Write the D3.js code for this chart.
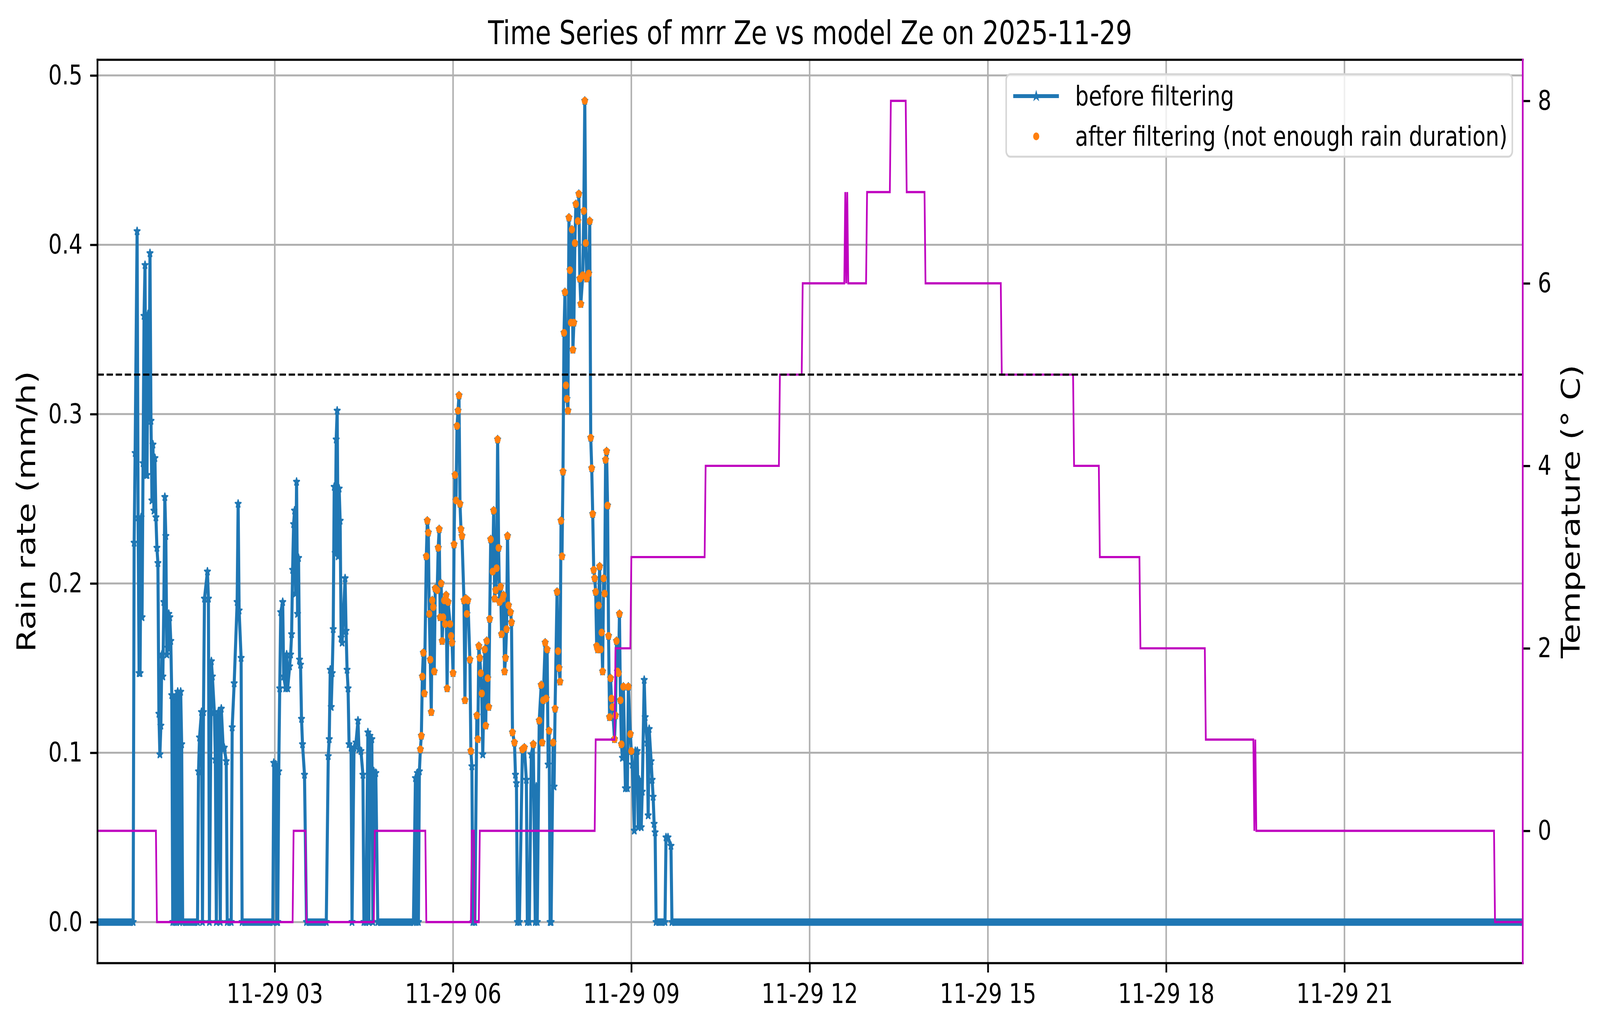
<!DOCTYPE html>
<html>
<head>
<meta charset="utf-8">
<script src="https://cdn.jsdelivr.net/npm/d3@7"></script>
<style>
  html, body { margin: 0; padding: 0; background: #fff; overflow: hidden; }
  svg { display: block; width: 100vw; height: 100vh; }
  text { font-family: "DejaVu Sans", sans-serif; fill: #000; }
</style>
</head>
<body>
<script>

// data, times are minutes after 2025-11-29 00:00

// rain rate readings (mm/h) where it was raining, [minute, value]
var rainReadings = [
  [38,.224],[39,.277],[41,.408],[42,.239],[43,.147],[44,.147],[45,.239],[46,.180],[47,.271],[48,.358],
  [49,.388],[50,.264],[51,.264],[52,.359],[53,.297],[54,.395],[55,.296],[56,.249],[57,.282],[58,.243],
  [59,.274],[60,.239],[61,.221],[62,.212],[63,.123],[64,.099],[65,.116],[66,.158],[67,.145],[68,.189],
  [69,.251],[70,.228],[71,.158],[72,.162],[73,.182],[74,.180],[75,.166],[76,.134],[77,0],[78,.131],
  [79,0],[80,.133],[81,0],[82,.136],[83,.105],[84,0],[85,.136],[86,.105],
  [103,.089],[104,.109],[106,.124],[107,0],[108,.124],[109,.191],[112,.207],[113,.191],[114,0],[116,.154],
  [117,.145],[119,.124],[120,.096],[121,0],[122,.122],[123,.124],[125,0],[126,.126],[128,.102],[129,.103],
  [131,.095],
  [137,.115],[139,.141],[142,.189],[143,.247],[144,.184],[146,.156],
  [179,.094],[181,.093],[182,0],[183,0],[184,.089],[185,.138],[186,.183],[188,.189],[189,.145],[191,.138],
  [192,.158],[193,.138],[195,.151],[196,.158],[197,.170],[198,.208],[199,.235],[200,.243],[201,.194],[202,.260],
  [203,.182],[204,.215],[205,.155],[206,.152],[207,.120],[208,.105],[210,.087],
  [234,.098],[235,.108],[236,.149],[237,.127],[238,.147],[239,.173],[240,.257],[241,.218],[242,.285],[243,.302],
  [244,.216],[245,.256],[246,.237],[247,.168],[248,.165],[251,.203],[252,.172],[253,.149],[254,.138],[255,.105],
  [257,.103],[258,0],[260,.103],[262,.106],[264,.119],[265,.102],[267,.101],[269,.087],[270,0],[272,0],
  [274,.112],[275,0],[276,.110],[278,.108],[279,0],[280,.089],[282,.088],
  [322,.085],[323,0],[324,.088],[325,0],[326,.089],[327,.102],[328,.110],[329,.145],[330,.159],[331,.135],
  [333,.216],[334,.237],[335,.230],[336,.182],[337,.155],[338,.124],[339,.190],[340,.186],[341,.148],[342,.197],
  [344,.196],[345,.221],[346,.232],[347,.180],[348,.200],[349,.166],[350,.180],[351,.190],[352,.176],[353,.193],
  [354,.138],[355,.189],[357,.176],[358,.169],[359,.165],[360,.147],[361,.223],[362,.264],[363,.249],[364,.293],
  [365,.302],[366,.311],[367,.247],[368,.232],[369,.228],[371,.190],[372,.131],[373,.191],[374,.182],[375,.190],
  [377,.155],[378,.101],[379,.092],[380,0],[382,0],[384,.122],[385,.108],[386,.163],[387,.156],[388,.147],
  [389,.135],[390,.099],[392,.161],[393,.116],[394,.166],[395,.144],[396,.127],[397,.179],[398,.226],[400,.207],
  [401,.243],[402,.191],[403,.196],[404,.209],[405,.285],[406,.221],[407,.189],[408,.198],[409,.170],[410,.191],
  [411,.193],[412,.148],[413,.156],[414,.173],[415,.228],[416,.187],[418,.183],[419,.177],[420,.112],[422,.106],
  [423,.087],[424,.082],[425,0],[427,0],[430,.102],[432,.103],[434,.084],[435,0],[437,0],[439,.099],
  [441,.105],[443,0],[444,.080],[445,0],[447,.119],[449,.140],[450,.106],[451,.131],[453,.165],[454,.132],
  [455,.161],[456,.093],[457,.113],[458,0],[459,0],[461,.106],[462,.080],[463,.126],[465,.195],[466,.160],
  [467,.150],[468,.142],[469,.237],[470,.216],[471,.266],[472,.348],[473,.372],[474,.317],[475,.309],[476,.302],
  [477,.416],[478,.385],[479,.354],[480,.409],[481,.338],[482,.354],[483,.401],[484,.424],[486,.414],[487,.430],
  [488,.380],[489,.365],[491,.382],[492,.420],[493,.485],[494,.401],[495,.380],[497,.383],[498,.414],[499,.286],
  [500,.268],[501,.241],[502,.208],[503,.203],[504,.195],[505,.163],[506,.161],[507,.187],[508,.210],[509,.161],
  [510,.171],[511,.148],[512,.203],[513,.194],[514,.273],[515,.278],[516,.246],[517,.169],[518,.121],[519,.144],
  [520,.132],[521,.127],[523,.108],[524,.122],[525,.166],[526,.148],[527,.147],[528,.182],[529,.131],[530,.105],
  [531,.097],[532,.139],[534,.079],[536,.079],[537,.139],[539,.111],[540,.101],[541,.093],[543,.054],[544,.101],
  [546,.101],[547,.056],[548,.084],[550,.056],[551,.077],[553,.143],[554,.121],[556,.106],[557,.063],[558,.114],
  [560,.095],[561,.084],[562,.074],[563,.058],[564,.053],
  [575,.050],[577,.050],[580,.045]
];

// stretches where the radar reported 0 every minute, [from, to]
var dryPeriods = [[1,37],[87,102],[132,136],[147,178],[212,232],[284,320],[565,574],[581,1440]];

// what was kept after filtering
var keepFrom = 325, keepTo = 540, minRate = 0.1;

// model temperature (deg C), [minute, value]
var tempPoints = [
  [1,0],[60,0],[61,-1],[198,-1],[199,0],[211,0],[212,-1],[280,-1],[281,0],[332,0],[333,-1],
  [378,-1],[379,0],[381,0],[382,-1],[386,-1],[387,0],[503,0],[504,1],[523,1],[524,2],[539,2],[540,3],
  [614,3],[615,4],[689,4],[690,5],[712,5],[713,6],[755,6],[756,7],[757,6],[758,7],[759,6],
  [777,6],[778,7],[801,7],[802,8],[817,8],[818,7],[836,7],[837,6],[913,6],[914,5],[986,5],[987,4],
  [1012,4],[1013,3],[1053,3],[1054,2],[1119,2],[1120,1],[1168,1],[1169,0],[1170,1],[1171,0],
  [1411,0],[1412,-1],[1440,-1]
];
var tempLine = 5;

var rainTicks = [0, 0.1, 0.2, 0.3, 0.4, 0.5];
var tempTicks = [0, 2, 4, 6, 8];
var hourTicks = [180, 360, 540, 720, 900, 1080, 1260];
var dayLabel = "11-29";

var titleText = "Time Series of mrr Ze vs model Ze on 2025-11-29";
var legendLabels = ["before filtering", "after filtering (not enough rain duration)"];


var width = 5219,
    height = 2631;
// plot box (note: "top" is taken by window.top)
var pL = 318, pR = 4967, pT = 153, pB = 2465;

var blue = "#1f77b4", orange = "#ff7f0e", magenta = "#bf00bf";

// drawn in a fixed 5219x2631 frame, stretched to whatever the window is
var svg = d3.select("body").append("svg")
    .attr("viewBox", "0 0 " + width + " " + height)
    .attr("preserveAspectRatio", "none");

svg.append("defs").append("clipPath").attr("id", "plot")
  .append("rect")
    .attr("x", pL).attr("y", pT)
    .attr("width", pR - pL).attr("height", pB - pT);

// matplotlib style 5% margins on the y data
function padded(ext) {
  var d = (ext[1] - ext[0]) * 0.05;
  return [ext[0] - d, ext[1] + d];
}

var x = d3.scaleLinear().domain([1, 1440]).range([pL, pR]);
var yRain = d3.scaleLinear()
    .domain(padded([0, d3.max(rainReadings, d => d[1])]))
    .range([pB, pT]);
var yTemp = d3.scaleLinear()
    .domain(padded(d3.extent(tempPoints, d => d[1])))
    .range([pB, pT]);

// grid
var grid = svg.append("g").attr("stroke", "#b0b0b0").attr("stroke-width", 5);
grid.selectAll(".gx").data(hourTicks).enter().append("line")
    .attr("x1", d => x(d)).attr("x2", d => x(d))
    .attr("y1", pT).attr("y2", pB);
grid.selectAll(".gy").data(rainTicks).enter().append("line")
    .attr("x1", pL).attr("x2", pR)
    .attr("y1", d => yRain(d)).attr("y2", d => yRain(d));

// rain series: dry stretch ends plus readings
var series = dryPeriods.flatMap(p => [[p[0], 0], [p[1], 0]])
    .concat(rainReadings)
    .sort((a, b) => a[0] - b[0]);

var plot = svg.append("g").attr("clip-path", "url(#plot)");

var rainLine = d3.line().x(d => x(d[0])).y(d => yRain(d[1]));

plot.append("path")
    .datum(series)
    .attr("d", rainLine)
    .attr("fill", "none")
    .attr("stroke", blue)
    .attr("stroke-width", 10)
    .attr("stroke-linejoin", "round");

// minute by minute stars along the dry stretches merge into a thick band
plot.selectAll(".dry").data(dryPeriods).enter().append("line")
    .attr("x1", d => x(d[0])).attr("x2", d => x(d[1]))
    .attr("y1", yRain(0)).attr("y2", yRain(0))
    .attr("stroke", blue)
    .attr("stroke-width", 19);

var star = d3.symbol().type(d3.symbolStar).size(110);
plot.selectAll(".star").data(series).enter().append("path")
    .attr("d", star)
    .attr("transform", d => "translate(" + x(d[0]) + "," + yRain(d[1]) + ")")
    .attr("fill", blue)
    .attr("stroke", blue)
    .attr("stroke-width", 4)
    .attr("stroke-linejoin", "round");

var kept = rainReadings.filter(d => d[0] >= keepFrom && d[0] <= keepTo && d[1] >= minRate);
plot.selectAll(".kept").data(kept).enter().append("circle")
    .attr("cx", d => x(d[0]))
    .attr("cy", d => yRain(d[1]))
    .attr("r", 10)
    .attr("fill", orange);

// temperature on the twin axis
plot.append("path")
    .datum(tempPoints)
    .attr("d", d3.line().x(d => x(d[0])).y(d => yTemp(d[1])))
    .attr("fill", "none")
    .attr("stroke", magenta)
    .attr("stroke-width", 5.6);

plot.append("line")
    .attr("x1", pL).attr("x2", pR)
    .attr("y1", yTemp(tempLine)).attr("y2", yTemp(tempLine))
    .attr("stroke", "#000")
    .attr("stroke-width", 5.6)
    .attr("stroke-dasharray", "20.7,9");

// axes
function style(g) {
  g.select(".domain").remove();
  g.selectAll(".tick line").attr("stroke", "#000").attr("stroke-width", 5.6);
  g.selectAll(".tick text").attr("font-size", 70).attr("font-family", "DejaVu Sans");
}

svg.append("g")
    .attr("transform", "translate(0," + pB + ")")
    .call(d3.axisBottom(x).tickValues(hourTicks).tickSize(24).tickPadding(28)
      .tickFormat(m => dayLabel + " " + String(m / 60).padStart(2, "0")))
    .call(style);

svg.append("g")
    .attr("transform", "translate(" + pL + ",0)")
    .call(d3.axisLeft(yRain).tickValues(rainTicks).tickSize(24).tickPadding(25)
      .tickFormat(d3.format(".1f")))
    .call(style);

svg.append("g")
    .attr("transform", "translate(" + pR + ",0)")
    .call(d3.axisRight(yTemp).tickValues(tempTicks).tickSize(24).tickPadding(25)
      .tickFormat(d3.format("d")))
    .call(style);

// spines
var spine = svg.append("g").attr("stroke-width", 5.6).attr("stroke-linecap", "square");
spine.append("line").attr("x1", pL).attr("x2", pL).attr("y1", pT).attr("y2", pB).attr("stroke", "#000");
spine.append("line").attr("x1", pL).attr("x2", pR).attr("y1", pT).attr("y2", pT).attr("stroke", "#000");
spine.append("line").attr("x1", pL).attr("x2", pR).attr("y1", pB).attr("y2", pB).attr("stroke", "#000");
spine.append("line").attr("x1", pR).attr("x2", pR).attr("y1", pT).attr("y2", pB).attr("stroke", magenta);

// labels
svg.append("text")
    .attr("x", (pL + pR) / 2).attr("y", 113)
    .attr("text-anchor", "middle")
    .attr("font-size", 84)
    .text(titleText);

svg.append("text")
    .attr("transform", "translate(115," + (pT + pB) / 2 + ") rotate(-90)")
    .attr("text-anchor", "middle")
    .attr("font-size", 84)
    .text("Rain rate (mm/h)");

svg.append("text")
    .attr("transform", "translate(5153," + (pT + pB) / 2 + ") rotate(-90)")
    .attr("text-anchor", "middle")
    .attr("font-size", 84)
    .text("Temperature (\u00b0 C)");

// legend
var lg = svg.append("g");
lg.append("rect")
    .attr("x", 3282).attr("y", 190)
    .attr("width", 1651).attr("height", 211)
    .attr("rx", 14)
    .attr("fill", "#fff").attr("fill-opacity", 0.8)
    .attr("stroke", "#d6d6d6").attr("stroke-width", 5);
lg.append("line")
    .attr("x1", 3305).attr("x2", 3454).attr("y1", 246).attr("y2", 246)
    .attr("stroke", blue).attr("stroke-width", 10);
lg.append("path")
    .attr("d", star)
    .attr("transform", "translate(3380,246)")
    .attr("fill", blue).attr("stroke", blue).attr("stroke-width", 4);
lg.append("circle")
    .attr("cx", 3380).attr("cy", 349).attr("r", 10)
    .attr("fill", orange);
lg.selectAll(".lt").data(legendLabels).enter().append("text")
    .attr("x", 3507)
    .attr("y", (d, i) => 270 + i * 103)
    .attr("font-size", 70)
    .text(d => d);

</script>
</body>
</html>
